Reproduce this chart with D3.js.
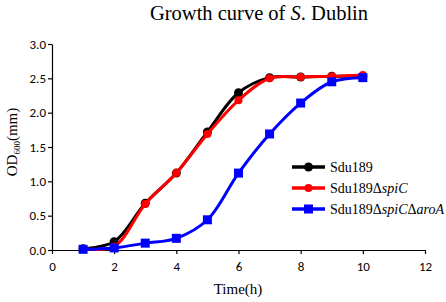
<!DOCTYPE html>
<html>
<head>
<meta charset="utf-8">
<script src="https://cdn.jsdelivr.net/npm/d3@7"></script>
<style>
  body { margin: 0; background: #fff; }
  svg { display: block; }
</style>
</head>
<body>
<svg id="chart" width="446" height="302"></svg>
<script>
const hours = [1, 2, 3, 4, 5, 6, 7, 8, 9, 10];
const sdu189 = [0.02, 0.12, 0.68, 1.12, 1.72, 2.29, 2.51, 2.52, 2.53, 2.53];
const spiC = [0.02, 0.05, 0.67, 1.12, 1.69, 2.18, 2.50, 2.52, 2.53, 2.55];
const spiCaroA = [0.01, 0.03, 0.10, 0.17, 0.44, 1.12, 1.69, 2.14, 2.45, 2.51];
const xTicks = [0, 2, 4, 6, 8, 10, 12];
const yTicks = [0, 0.5, 1.0, 1.5, 2.0, 2.5, 3.0];

const svg = d3.select("#chart");
const plotLeft = 52, plotRight = 425, plotTop = 44, plotBottom = 250;

const x = d3.scaleLinear().domain([0, 12]).range([plotLeft, plotRight]);
const y = d3.scaleLinear().domain([0, 3]).range([plotBottom, plotTop]);

const serif = "'Liberation Serif', 'Times New Roman', serif";
const sans = "Carlito, 'Liberation Sans', Arial, sans-serif";

// title
const title = svg.append("text")
  .attr("x", 259).attr("y", 20)
  .attr("text-anchor", "middle")
  .style("font-family", serif).style("font-size", "20.5px");
title.append("tspan").text("Growth curve of ");
title.append("tspan").style("font-style", "italic").text("S");
title.append("tspan").text(". Dublin");

// axes
const xAxis = svg.append("g")
  .attr("transform", "translate(0," + plotBottom + ")")
  .call(d3.axisBottom(x).tickValues(xTicks).tickSize(4).tickSizeOuter(0).tickFormat(d3.format("d")));
const yAxis = svg.append("g")
  .attr("transform", "translate(" + plotLeft + ",0)")
  .call(d3.axisLeft(y).tickValues(yTicks).tickSize(4).tickSizeOuter(0).tickFormat(d3.format(".1f")));

[xAxis, yAxis].forEach(function(g) {
  g.select(".domain").attr("stroke", "#000").attr("stroke-width", 1.2);
  g.selectAll(".tick line").attr("stroke", "#000").attr("stroke-width", 1.2);
  g.selectAll("text").style("font-family", sans).style("font-size", "13px").attr("fill", "#000");
});
xAxis.selectAll("text").attr("dy", "1.1em");
yAxis.selectAll("text").attr("x", -6);

// axis titles
svg.append("text")
  .attr("x", 238).attr("y", 294)
  .attr("text-anchor", "middle")
  .style("font-family", serif).style("font-size", "15px")
  .text("Time(h)");

const yLab = svg.append("text")
  .attr("transform", "translate(17,142) rotate(-90)")
  .attr("text-anchor", "middle")
  .style("font-family", serif).style("font-size", "15px");
yLab.append("tspan").text("OD");
yLab.append("tspan").attr("dy", 3).style("font-size", "9px").text("600");
yLab.append("tspan").attr("dy", -3).text("(mm)");

const series = [
  { name: "Sdu189", values: sdu189, color: "#000000", shape: "circle" },
  { name: "Sdu189ΔspiC", values: spiC, color: "#ff0000", shape: "dot" },
  { name: "Sdu189ΔspiCΔaroA", values: spiCaroA, color: "#0000ff", shape: "square" }
];

const line = d3.line()
  .x(function(d, i) { return x(hours[i]); })
  .y(function(d) { return y(d); })
  .curve(d3.curveCatmullRom.alpha(0.5));

function drawMarker(g, shape, color, cx, cy) {
  if (shape === "square") {
    g.append("rect").attr("x", cx - 4.5).attr("y", cy - 4.5)
      .attr("width", 9).attr("height", 9).attr("fill", color);
  } else if (shape === "circle") {
    g.append("circle").attr("cx", cx).attr("cy", cy).attr("r", 4.5).attr("fill", color);
  } else {
    g.append("circle").attr("cx", cx).attr("cy", cy).attr("r", 4).attr("fill", color);
  }
}

series.forEach(function(s) {
  const g = svg.append("g");
  g.append("path")
    .attr("d", line(s.values))
    .attr("fill", "none")
    .attr("stroke", s.color)
    .attr("stroke-width", 3);
  s.values.forEach(function(v, i) {
    drawMarker(g, s.shape, s.color, x(hours[i]), y(v));
  });
});

// legend
const legendRows = [167, 188, 209];
series.forEach(function(s, i) {
  const g = svg.append("g");
  const ly = legendRows[i];
  g.append("line").attr("x1", 292).attr("x2", 325).attr("y1", ly).attr("y2", ly)
    .attr("stroke", s.color).attr("stroke-width", 3.5);
  drawMarker(g, s.shape, s.color, 308.5, ly);
  const t = g.append("text").attr("x", 330).attr("y", ly + 5)
    .style("font-family", serif).style("font-size", "14px");
  if (i === 0) {
    t.text("Sdu189");
  } else if (i === 1) {
    t.append("tspan").text("Sdu189Δ");
    t.append("tspan").style("font-style", "italic").text("spiC");
  } else {
    t.append("tspan").text("Sdu189Δ");
    t.append("tspan").style("font-style", "italic").text("spiC");
    t.append("tspan").text("Δ");
    t.append("tspan").style("font-style", "italic").text("aroA");
  }
});
</script>
</body>
</html>
